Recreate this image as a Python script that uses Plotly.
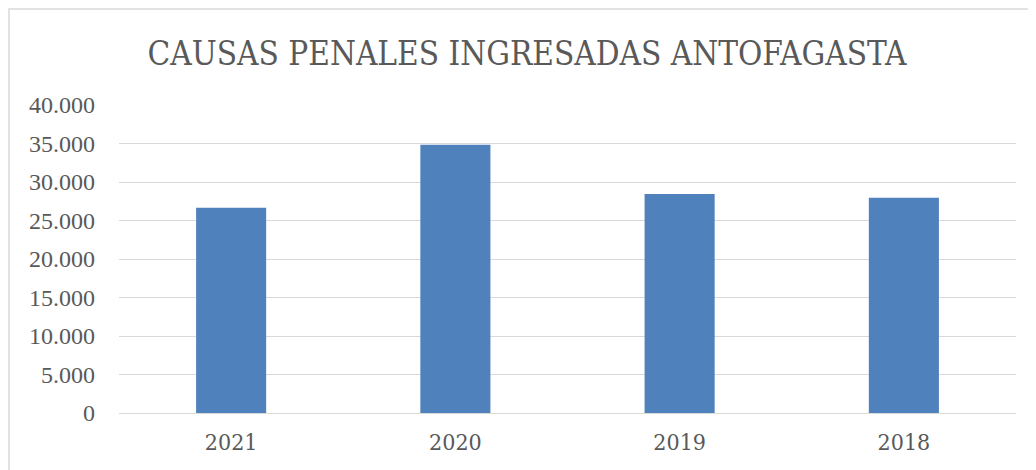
import plotly.graph_objects as go

years = ["2021", "2020", "2019", "2018"]
causas = [26650, 34850, 28450, 27950]
y_ticks = [0, 5000, 10000, 15000, 20000, 25000, 30000, 35000, 40000]

# page body has an 8px margin, so the figure is drawn 8px smaller and offset
OFF = 8
W, H = 1036 - OFF, 470 - OFF
L, R, T, B = 119 - OFF, 20, 105 - OFF, 57
pw, ph = W - L - R, H - T - B

def px(x):
    return (x - OFF - L) / pw

def py(y):
    return (H - B - (y - OFF)) / ph

fig = go.Figure(go.Bar(
    x=years, y=causas,
    marker=dict(color="#4F81BD", line=dict(width=0)),
    width=0.3125,
))

fig.update_layout(
    width=W, height=H,
    margin=dict(l=L, r=R, t=T, b=B),
    paper_bgcolor="white", plot_bgcolor="white",
    separators=",.",
    showlegend=False,
    title=dict(
        text="CAUSAS PENALES INGRESADAS ANTOFAGASTA",
        x=(527 - OFF) / W, xref="container", xanchor="center",
        y=1 - (53 - OFF) / H, yref="container", yanchor="middle",
        font=dict(family="DejaVu Serif Condensed, Liberation Serif, serif", size=33, color="#595959"),
    ),
    font=dict(family="Liberation Serif, DejaVu Serif, serif", color="#595959"),
    shapes=[dict(
        type="rect", xref="paper", yref="paper",
        x0=px(9), x1=px(1040), y0=py(475), y1=py(9),
        line=dict(color="#D9D9D9", width=1.5), fillcolor="rgba(0,0,0,0)",
        layer="below",
    )],
)

fig.update_xaxes(
    type="category",
    showgrid=False, showline=True, linecolor="#D9D9D9", linewidth=1,
    ticks="", tickfont=dict(size=23, color="#595959", family="DejaVu Serif Condensed, Liberation Serif, serif"),
    ticklabelstandoff=8,
)
fig.update_yaxes(
    range=[0, 40000], tickvals=y_ticks, tickformat=",d",
    showgrid=True, gridcolor="#D9D9D9", gridwidth=1,
    zeroline=False, showline=False, ticks="",
    tickfont=dict(size=24, color="#595959"),
    ticklabelstandoff=23,
)

fig.write_html("out.html")
